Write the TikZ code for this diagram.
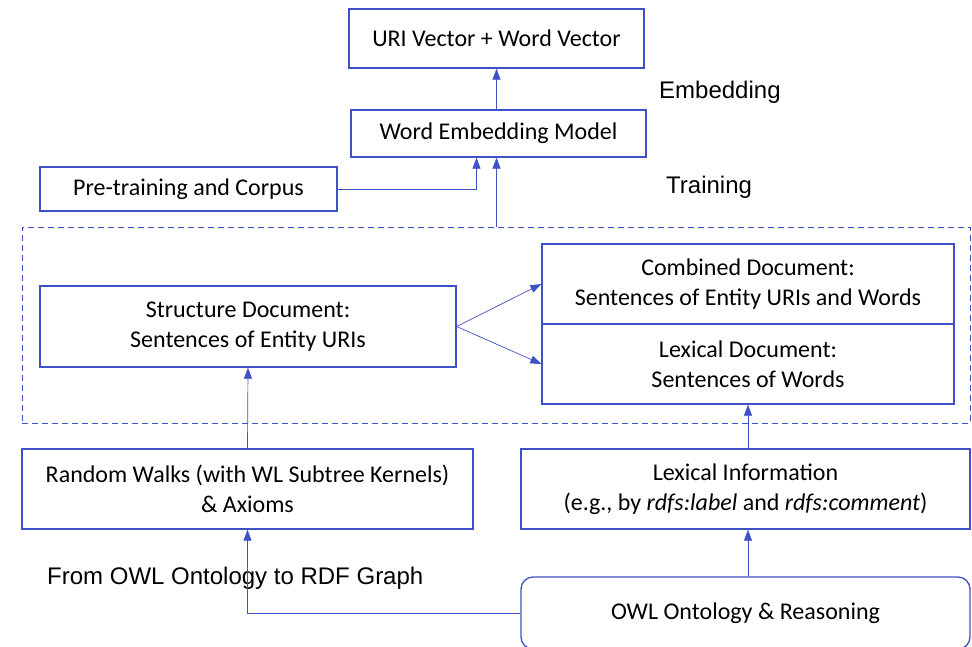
\documentclass[tikz,border=0pt]{standalone}
\usepackage{fontspec}
\setmainfont{Carlito}
\newfontfamily\labfont{Liberation Sans}
\usetikzlibrary{arrows.meta}
\definecolor{bl}{HTML}{3F51C6}
\begin{document}
\begin{tikzpicture}[x=1pt,y=-1pt,
 box/.style={draw=bl,line width=1.3pt,align=center,inner sep=0pt,font=\fontsize{24}{30}\selectfont},
 conn/.style={draw=bl,line width=0.7pt,-{Triangle[length=11pt,width=8pt]}},
 lbl/.style={font=\labfont\fontsize{24}{28}\selectfont,anchor=west,inner sep=0pt},
 dashbox/.style={draw=bl,line width=0.9pt,dash pattern=on 6pt off 4pt,inner sep=0pt}]
\useasboundingbox (0,0) rectangle (972,646);
\clip (0,0) rectangle (972,646);
\node[dashbox,minimum width=948pt,minimum height=196pt] (train) at (496,325) {};
\node[box,minimum width=295pt,minimum height=59pt] (top) at (496.5,38.5) {URI Vector + Word Vector};
\node[box,minimum width=295pt,minimum height=47pt] (wem) at (498.5,133.5) {Word Embedding Model};
\node[box,minimum width=297pt,minimum height=44pt] (pre) at (188.5,189) {Pre-training and Corpus};
\node[box,minimum width=416pt,minimum height=81pt] (struct) at (248,326.5) {Structure Document:\\Sentences of Entity URIs};
\node[box,minimum width=412pt,minimum height=80pt] (comb) at (748,284) {Combined Document:\\Sentences of Entity URIs and Words};
\node[box,minimum width=412pt,minimum height=80pt] (lex) at (748,364) {Lexical Document:\\Sentences of Words};
\node[box,minimum width=451pt,minimum height=80pt] (rw) at (247.5,489) {Random Walks (with WL Subtree Kernels)\\\& Axioms};
\node[box,minimum width=449pt,minimum height=80pt] (li) at (745.5,489) {Lexical Information\\(e.g., by \textit{rdfs:label} and \textit{rdfs:comment})};
\node[box,rounded corners=12pt,minimum width=449pt,minimum height=72pt] (owl) at (745.5,613) {OWL Ontology \& Reasoning};
\node[lbl] (emb) at (659,92) {Embedding};
\node[lbl] (trn) at (666,187) {Training};
\node[lbl] (rdf) at (47,578) {From OWL Ontology to RDF Graph};
\draw[conn] (wem.north -| top.south) -- (top.south);
\draw[conn] (pre.east) -| ([xshift=-22pt]wem.south);
\draw[conn] (train.north -| top.south) -- (top.south |- wem.south);
\draw[conn] (struct.east) -- (comb.west);
\draw[conn] (struct.east) -- (lex.west);
\draw[conn] (rw.north) -- (struct.south);
\draw[conn] (li.north -| lex.south) -- (lex.south);
\draw[conn] (owl.west) -| (rw.south);
\draw[conn] (owl.north -| lex.south) -- (li.south -| lex.south);
\end{tikzpicture}
\end{document}
